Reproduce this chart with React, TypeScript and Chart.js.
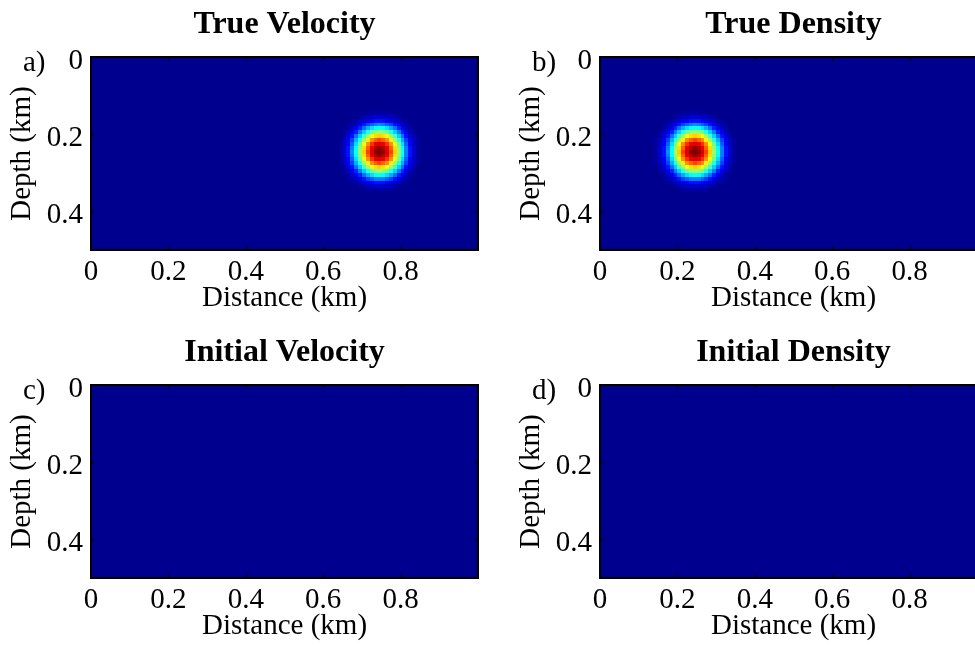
import React, { useEffect, useRef } from 'react';
import { Chart, registerables } from 'chart.js';

Chart.register(...registerables);

// ---------------- data ----------------
const distanceTicks = [0, 0.2, 0.4, 0.6, 0.8];
const depthTicks = [0, 0.2, 0.4];
const distanceRange = [0, 1];
const depthRange = [0, 0.5];
const cellSizeKm = 0.01;
const colorLimits = [0, 1];
// anomaly value versus radial distance from its centre, in grid cells (0,1,2,...)
const anomalyProfile = [1.0, 0.97, 0.9, 0.8, 0.67, 0.53, 0.38, 0.25, 0.13, 0.07, 0.03, 0.01, 0];
const velocityAnomalyCenter = [0.745, 0.245];
const densityAnomalyCenter = [0.245, 0.245];
const panelTitles = ['True Velocity', 'True Density', 'Initial Velocity', 'Initial Density'];
const panelLetters = ['a)', 'b)', 'c)', 'd)'];
const xAxisTitle = 'Distance (km)';
const yAxisTitle = 'Depth (km)';

// ---------------- helpers ----------------
type Cell = { x: number; y: number; v: number };

function profileAt(rCells: number): number {
  const last = anomalyProfile.length - 1;
  if (rCells >= last) return anomalyProfile[last];
  const k = Math.floor(rCells);
  const f = rCells - k;
  return anomalyProfile[k] * (1 - f) + anomalyProfile[k + 1] * f;
}

function buildCells(center: number[] | null): Cell[] {
  const nx = Math.round((distanceRange[1] - distanceRange[0]) / cellSizeKm);
  const nz = Math.round((depthRange[1] - depthRange[0]) / cellSizeKm);
  const cells: Cell[] = [];
  for (let j = 0; j < nz; j++) {
    for (let i = 0; i < nx; i++) {
      const x = distanceRange[0] + (i + 0.5) * cellSizeKm;
      const y = depthRange[0] + (j + 0.5) * cellSizeKm;
      let v = colorLimits[0];
      if (center) {
        const r = Math.hypot(x - center[0], y - center[1]) / cellSizeKm;
        v = profileAt(r);
      }
      cells.push({ x, y, v });
    }
  }
  return cells;
}

function jet64(): number[][] {
  const m = 64;
  const n = Math.ceil(m / 4);
  const u: number[] = [];
  for (let i = 1; i <= n; i++) u.push(i / n);
  for (let i = 1; i < n; i++) u.push(1);
  for (let i = n; i >= 1; i--) u.push(i / n);
  const cmap = Array.from({ length: m }, () => [0, 0, 0]);
  const g0 = Math.ceil(n / 2) - (m % 4 === 1 ? 1 : 0);
  for (let k = 0; k < u.length; k++) {
    const g = g0 + k + 1;
    const r = g + n;
    const b = g - n;
    if (g >= 1 && g <= m) cmap[g - 1][1] = u[k];
    if (r >= 1 && r <= m) cmap[r - 1][0] = u[k];
    if (b >= 1 && b <= m) cmap[b - 1][2] = u[k];
  }
  return cmap;
}
const JET = jet64().map(
  (c) => `rgb(${Math.round(c[0] * 255)},${Math.round(c[1] * 255)},${Math.round(c[2] * 255)})`
);

function colorFor(v: number): string {
  const t = (v - colorLimits[0]) / (colorLimits[1] - colorLimits[0]);
  const idx = Math.max(0, Math.min(JET.length - 1, Math.floor(t * JET.length)));
  return JET[idx];
}

const FONT_FAMILY = "'Liberation Serif', 'Times New Roman', Times, serif";
const tickFont = { family: FONT_FAMILY, size: 29, lineHeight: 1.2 };

const heatmapPlugin = {
  id: 'heatmap',
  beforeDatasetsDraw(chart: any) {
    const { ctx, chartArea, scales } = chart;
    const xs = scales.x;
    const ys = scales.y;
    const half = cellSizeKm / 2;
    ctx.save();
    ctx.beginPath();
    ctx.rect(chartArea.left, chartArea.top, chartArea.right - chartArea.left, chartArea.bottom - chartArea.top);
    ctx.clip();
    const data: Cell[] = chart.data.datasets[0].data;
    for (const c of data) {
      const xa = Math.round(xs.getPixelForValue(c.x - half));
      const xb = Math.round(xs.getPixelForValue(c.x + half));
      const ya = Math.round(ys.getPixelForValue(c.y - half));
      const yb = Math.round(ys.getPixelForValue(c.y + half));
      ctx.fillStyle = colorFor(c.v);
      ctx.fillRect(Math.min(xa, xb), Math.min(ya, yb), Math.abs(xb - xa), Math.abs(yb - ya));
    }
    ctx.restore();
  },
};

const framePlugin = {
  id: 'frame',
  afterDraw(chart: any, _args: any, opts: any) {
    const { ctx, chartArea, scales } = chart;
    const { left, right, top, bottom } = chartArea;
    ctx.save();
    ctx.strokeStyle = '#000';
    ctx.lineWidth = 1;
    ctx.beginPath();
    for (const t of distanceTicks) {
      const px = Math.round(scales.x.getPixelForValue(t)) + 0.5;
      ctx.moveTo(px, bottom);
      ctx.lineTo(px, bottom - 4);
      ctx.moveTo(px, top);
      ctx.lineTo(px, top + 4);
    }
    for (const t of depthTicks) {
      const py = Math.round(scales.y.getPixelForValue(t)) + 0.5;
      ctx.moveTo(left, py);
      ctx.lineTo(left + 4, py);
      ctx.moveTo(right, py);
      ctx.lineTo(right - 4, py);
    }
    ctx.stroke();
    ctx.lineWidth = 2;
    ctx.strokeRect(left, top, right - left, bottom - top);

    ctx.fillStyle = '#000';
    ctx.font = `bold 32px ${FONT_FAMILY}`;
    ctx.textAlign = 'center';
    ctx.textBaseline = 'alphabetic';
    ctx.fillText(opts.title, (left + right) / 2, top - 24);

    ctx.font = `29px ${FONT_FAMILY}`;
    ctx.textAlign = 'left';
    ctx.fillText(opts.letter, left - 68, top + 14);
    ctx.restore();
  },
};

const CANVAS_W = 487;
const CANVAS_H = 328;

function Panel(props: { cells: Cell[]; title: string; letter: string; left: number; top: number }) {
  const ref = useRef<HTMLCanvasElement>(null);
  useEffect(() => {
    const chart = new Chart(ref.current as HTMLCanvasElement, {
      type: 'scatter',
      data: {
        datasets: [{ data: props.cells as any, pointRadius: 0, pointHoverRadius: 0 }],
      },
      options: {
        responsive: false,
        animation: false,
        events: [],
        layout: { padding: { left: 0, right: 9, top: 57, bottom: 0 } },
        plugins: {
          legend: { display: false },
          tooltip: { enabled: false },
          title: { display: false },
          frame: { title: props.title, letter: props.letter },
        } as any,
        scales: {
          x: {
            type: 'linear',
            min: distanceRange[0],
            max: distanceRange[1],
            afterBuildTicks: (s: any) => {
              s.ticks = distanceTicks.map((v) => ({ value: v }));
            },
            afterFit: (s: any) => {
              s.height = 78;
            },
            grid: { display: false, drawTicks: false },
            border: { display: false },
            ticks: { padding: 5, font: tickFont, color: '#000', maxRotation: 0, callback: (v: any) => String(v) },
            title: { display: true, text: xAxisTitle, font: tickFont, color: '#000', padding: { top: 0, bottom: 12 } },
          },
          y: {
            type: 'linear',
            reverse: true,
            min: depthRange[0],
            max: depthRange[1],
            afterBuildTicks: (s: any) => {
              s.ticks = depthTicks.map((v) => ({ value: v }));
            },
            afterFit: (s: any) => {
              s.width = 91;
            },
            grid: { display: false, drawTicks: false },
            border: { display: false },
            ticks: { padding: 8, labelOffset: 4, font: tickFont, color: '#000', callback: (v: any) => String(v) },
            title: { display: true, text: yAxisTitle, font: tickFont, color: '#000', padding: { top: 5, bottom: 0 } },
          },
        } as any,
      },
      plugins: [heatmapPlugin, framePlugin],
    });
    return () => chart.destroy();
  }, []);
  return (
    <canvas
      ref={ref}
      width={CANVAS_W}
      height={CANVAS_H}
      style={{ position: 'absolute', left: props.left, top: props.top, width: CANVAS_W, height: CANVAS_H }}
    />
  );
}

const trueVelocityCells = buildCells(velocityAnomalyCenter);
const trueDensityCells = buildCells(densityAnomalyCenter);
const initialVelocityCells = buildCells(null);
const initialDensityCells = buildCells(null);

export default function App() {
  return (
    <div
      style={{
        position: 'absolute',
        left: 0,
        top: 0,
        width: 975,
        height: 645,
        overflow: 'hidden',
        background: '#fff',
      }}
    >
      <Panel cells={trueVelocityCells} title={panelTitles[0]} letter={panelLetters[0]} left={0} top={0} />
      <Panel cells={trueDensityCells} title={panelTitles[1]} letter={panelLetters[1]} left={509} top={0} />
      <Panel cells={initialVelocityCells} title={panelTitles[2]} letter={panelLetters[2]} left={0} top={328} />
      <Panel cells={initialDensityCells} title={panelTitles[3]} letter={panelLetters[3]} left={509} top={328} />
    </div>
  );
}
